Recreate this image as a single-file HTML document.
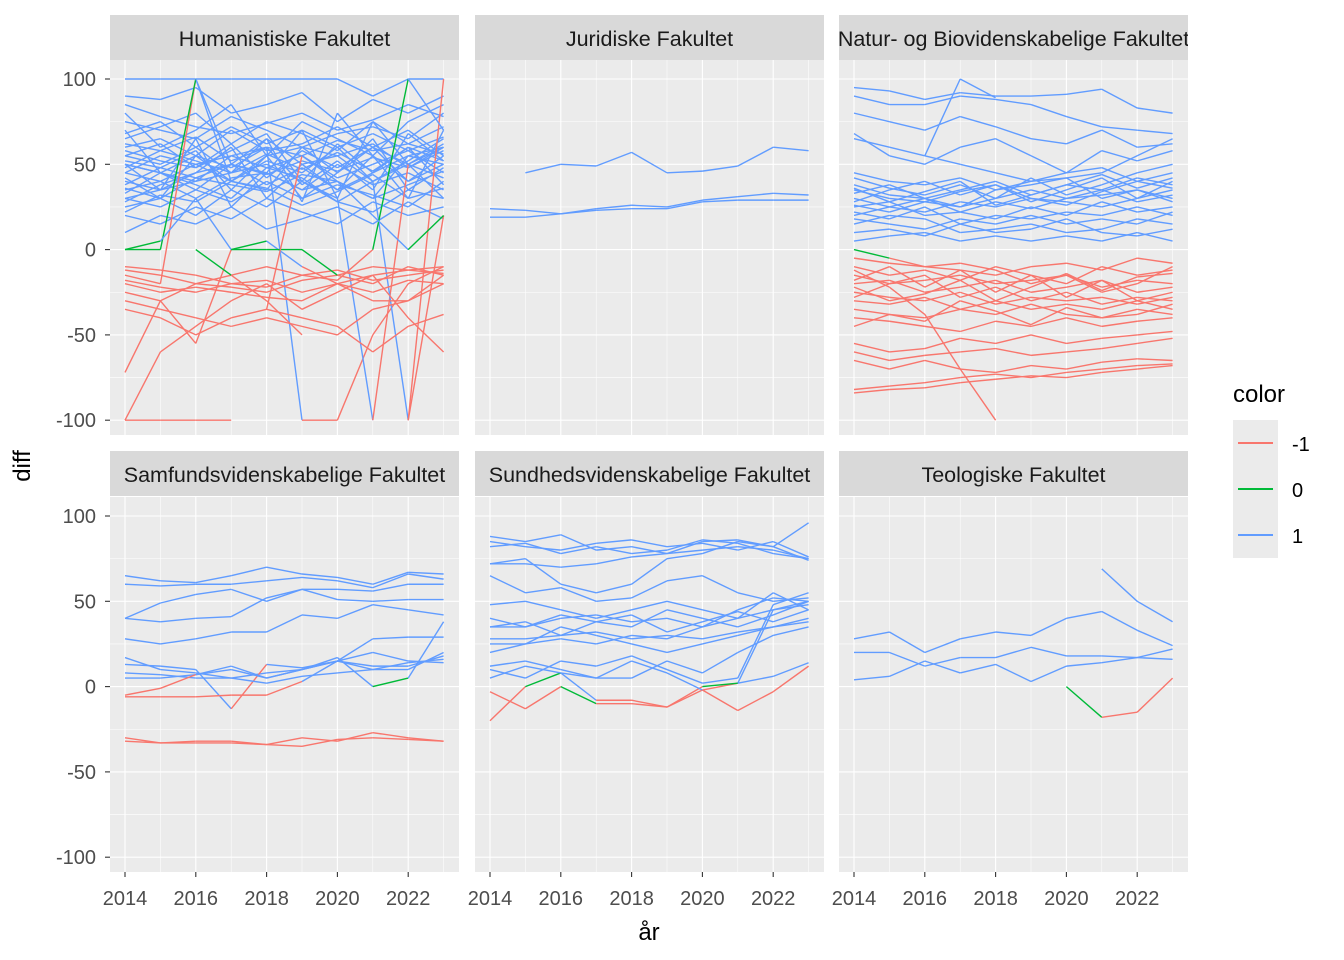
<!DOCTYPE html>
<html><head><meta charset="utf-8"><style>
html,body{margin:0;padding:0;background:#fff;}
svg{display:block;font-family:"Liberation Sans",Arial,sans-serif;}
</style></head><body>
<svg id="chart" width="1344" height="960" viewBox="0 0 1344 960" xmlns="http://www.w3.org/2000/svg">
<defs></defs>
<g id="panels"></g>
<text x="30" y="466" transform="rotate(-90 30 466)" text-anchor="middle" font-size="24" fill="#000">diff</text>
<text x="649" y="940" text-anchor="middle" font-size="24" fill="#000">år</text>
<g>
<text x="1233" y="402" font-size="24" fill="#000">color</text>
<g><rect x="1233" y="420" width="45" height="46" fill="#EBEBEB"/><line x1="1238" y1="443" x2="1273" y2="443" stroke="#F8766D" stroke-width="2"/><text x="1292" y="451" font-size="20" fill="#000">-1</text></g>
<g><rect x="1233" y="466" width="45" height="46" fill="#EBEBEB"/><line x1="1238" y1="489" x2="1273" y2="489" stroke="#00BA38" stroke-width="2"/><text x="1292" y="497" font-size="20" fill="#000">0</text></g>
<g><rect x="1233" y="512" width="45" height="46" fill="#EBEBEB"/><line x1="1238" y1="535" x2="1273" y2="535" stroke="#619CFF" stroke-width="2"/><text x="1292" y="543" font-size="20" fill="#000">1</text></g>
</g>
</svg>
<script>
const years = [2014,2015,2016,2017,2018,2019,2020,2021,2022,2023];
const yTicks = [-100,-50,0,50,100];
const xTicks = [2014,2016,2018,2020,2022];
const facetNames = ["Humanistiske Fakultet","Juridiske Fakultet","Natur- og Biovidenskabelige Fakultet","Samfundsvidenskabelige Fakultet","Sundhedsvidenskabelige Fakultet","Teologiske Fakultet"];
const N = null;
const humSeries = [
[100,100,100,100,100,100,100,90,100,100],
[90,88,95,80,85,92,75,88,80,90],
[75,70,65,78,70,60,68,72,65,80],
[60,65,55,70,58,62,72,60,70,55],
[55,50,60,45,65,50,55,62,48,60],
[50,45,40,55,48,55,42,50,58,45],
[45,55,50,40,52,45,60,40,52,65],
[40,35,45,50,38,48,35,55,40,50],
[35,40,30,42,45,35,50,38,45,35],
[30,25,35,28,40,30,38,32,25,40],
[25,30,20,35,25,40,28,22,35,30],
[20,15,25,18,30,22,15,28,20,25],
[10,20,15,25,12,18,25,15,28,18],
[65,72,80,62,75,68,58,75,62,72],
[80,60,70,85,55,75,65,55,75,85],
[55,62,48,58,68,40,62,45,55,60],
[38,48,58,35,55,60,45,65,35,48],
[28,38,45,60,30,50,35,45,60,38],
[70,45,35,50,65,28,80,55,30,70],
[50,35,65,25,45,70,30,75,50,30],
[58,52,48,62,42,58,48,60,50,62],
[42,30,55,48,60,38,52,35,68,52],
[62,58,66,52,60,55,64,58,62,56],
[52,48,42,50,44,52,46,54,48,58],
[33,45,38,30,48,42,28,40,50,42],
[68,75,60,72,62,70,60,68,58,66],
[48,58,52,45,56,47,57,46,60,52],
[36,30,42,38,34,44,40,30,38,46],
[85,78,72,68,74,80,70,76,85,78],
[22,32,28,40,36,26,34,44,30,36],
[45,40,50,55,60,-100,-100,-50,-20,-10],
[30,35,40,45,50,40,30,-100,50,60],
[50,45,55,40,35,60,55,40,-100,100],
[-100,-100,-100,-100,N,N,N,N,N,N],
[-72,-30,-20,-22,-25,-18,-15,-20,-10,-15],
[-10,-12,-15,-20,-18,-25,-20,-15,-12,-10],
[-30,-35,-40,-45,-40,-45,-50,-35,-30,-20],
[-35,-40,-50,-40,-35,-40,-45,-60,-45,-38],
[-20,-25,-22,-25,-28,-30,-20,-25,-18,-20],
[-12,-15,-20,-15,-10,-15,-12,-18,-15,-12],
[-100,-60,-45,-30,-20,-35,-25,-15,-40,-60],
[-25,-30,-55,0,5,-10,-20,-30,-30,-15],
[-15,-20,100,40,55,30,45,60,40,55],
[0,0,100,50,45,35,40,30,55,50],
[0,5,30,0,0,0,-15,-10,-12,-14],
[-18,-22,-25,-20,-22,-15,-18,0,100,70],
[N,N,0,-15,-30,-50,N,N,-100,20],
[N,N,N,N,-35,55,40,20,0,20]
];
const jurSeries = [
[N,45,50,49,57,45,46,49,60,58],
[24,23,21,24,26,25,29,31,33,32],
[19,19,21,23,24,24,28,29,29,29]
];
const natSeries = [
[95,93,88,92,90,90,91,94,83,80],
[90,85,85,90,88,85,78,72,70,68],
[80,75,70,78,72,65,62,70,60,62],
[68,55,50,60,65,55,45,58,52,58],
[N,N,55,100,89,N,N,N,N,N],
[45,40,38,42,35,40,45,48,40,45],
[38,32,30,35,40,32,38,35,42,38],
[35,30,28,25,30,35,30,32,35,30],
[30,25,22,28,25,30,28,25,30,35],
[25,28,20,22,18,25,20,28,22,25],
[22,18,25,15,20,18,22,20,25,20],
[18,15,12,18,15,20,15,18,15,22],
[15,20,18,10,12,15,10,12,18,15],
[10,12,8,15,10,12,18,10,8,12],
[5,8,10,5,8,5,8,5,10,5],
[28,35,40,32,38,28,35,42,30,40],
[65,60,55,50,45,40,42,45,55,65],
[42,36,32,38,30,42,32,38,45,50],
[33,38,30,25,35,38,42,30,35,28],
[20,25,30,22,28,24,30,35,28,32],
[36,28,34,40,26,32,38,44,36,42],
[26,22,28,34,38,30,26,34,40,36],
[-5,-8,-10,-12,-15,-10,-8,-12,-5,-8],
[-10,-15,-12,-18,-10,-15,-20,-10,-15,-12],
[-15,-20,-18,-15,-20,-18,-15,-22,-18,-20],
[-20,-18,-25,-22,-18,-25,-22,-18,-25,-22],
[-25,-28,-30,-25,-32,-28,-30,-28,-32,-28],
[-30,-32,-28,-35,-30,-35,-32,-35,-30,-35],
[-35,-38,-40,-35,-38,-32,-38,-40,-35,-38],
[-40,-42,-45,-48,-42,-45,-40,-45,-42,-40],
[-55,-60,-58,-52,-55,-50,-55,-52,-50,-48],
[-60,-65,-62,-60,-58,-62,-60,-58,-55,-52],
[-65,-70,-65,-70,-72,-68,-70,-66,-64,-65],
[-84,-82,-81,-78,-76,-74,-75,-72,-70,-68],
[-82,-80,-78,-75,-73,-75,-72,-70,-68,-67],
[-12,-22,-38,-70,-100,N,N,N,N,N],
[0,-5,-10,-8,-12,-20,-15,-25,-20,-10],
[-18,-10,-22,-12,-25,-15,-28,-18,-30,-25],
[-28,-20,-15,-28,-22,-30,-25,-32,-28,-30],
[-45,-38,-42,-30,-36,-44,-34,-40,-38,-32],
[-22,-30,-26,-18,-30,-22,-14,-24,-16,-14]
];
const samSeries = [
[65,62,61,65,70,66,64,60,67,66],
[60,59,60,60,62,64,62,58,66,63],
[40,49,54,57,50,57,57,56,60,60],
[40,38,40,41,52,57,51,50,51,51],
[28,25,28,32,32,42,40,48,45,42],
[17,10,8,5,8,10,15,28,29,29],
[13,12,10,-13,13,11,15,10,10,20],
[5,5,7,10,5,10,17,0,5,38],
[8,7,5,5,2,6,8,10,14,16],
[-6,-6,-6,-5,-5,3,15,12,12,18],
[-5,-1,7,12,5,10,15,20,15,14],
[-30,-33,-32,-32,-34,-30,-32,-27,-30,-32],
[-32,-33,-33,-33,-34,-35,-31,-30,-31,-32]
];
const sunSeries = [
[88,85,89,80,82,78,85,86,82,96],
[85,82,80,84,86,82,84,80,85,76],
[82,84,78,82,78,80,86,84,78,75],
[72,72,70,72,76,78,80,82,80,75],
[72,75,60,55,60,75,78,85,82,74],
[65,55,58,50,52,62,65,55,50,52],
[48,50,45,40,45,50,45,40,55,45],
[40,35,42,38,35,45,40,35,42,50],
[35,38,30,38,42,32,38,44,38,45],
[28,28,30,32,28,30,28,32,35,40],
[25,25,28,25,30,28,35,40,45,48],
[12,15,10,5,5,15,8,20,30,35],
[10,5,15,12,18,10,2,5,48,55],
[35,35,40,42,38,40,35,45,52,50],
[20,25,35,30,25,20,25,30,35,38],
[-20,0,8,-8,-8,-12,-2,2,45,50],
[-3,-13,0,-10,-10,-12,0,2,6,14],
[5,12,8,5,15,8,-2,-14,-3,12]
];
const teoSeries = [
[28,32,20,28,32,30,40,44,33,24],
[20,20,12,17,17,23,18,18,17,22],
[4,6,15,8,13,3,12,14,17,16],
[N,N,N,N,N,N,N,69,50,38],
[N,N,N,N,N,N,0,-18,-15,5]
];
const allSeries = [humSeries,jurSeries,natSeries,samSeries,sunSeries,teoSeries];

const NS="http://www.w3.org/2000/svg";
const svg=document.getElementById('chart');
const root=document.getElementById('panels');
const defs=svg.querySelector('defs');
function mk(tag,attrs,parent){const e=document.createElementNS(NS,tag);for(const k in attrs)e.setAttribute(k,attrs[k]);parent.appendChild(e);return e;}
const colX=[110,475,839], pw=349;
const rowStrip=[15,451], rowTop=[60,497], ph=375;
function colorOf(v){return v>0?"#619CFF":(v<0?"#F8766D":"#00BA38");}
for(let p=0;p<6;p++){
  const col=p%3,row=Math.floor(p/3);
  const x0=colX[col], y0=rowTop[row];
  const xs=v=>x0+15+(v-2014)*35.4;
  const ys=v=>y0+19+(100-v)*1.706;
  const g=mk('g',{},root);
  
  
  mk('rect',{x:x0,y:y0,width:pw,height:ph,fill:'#EBEBEB'},g);
  for(let v=-75;v<=75;v+=50)mk('line',{x1:x0,x2:x0+pw,y1:ys(v),y2:ys(v),stroke:'#fff','stroke-width':0.55},g);
  for(let yy=2015;yy<=2023;yy+=2)mk('line',{x1:xs(yy),x2:xs(yy),y1:y0,y2:y0+ph,stroke:'#fff','stroke-width':0.55},g);
  yTicks.forEach(v=>mk('line',{x1:x0,x2:x0+pw,y1:ys(v),y2:ys(v),stroke:'#fff','stroke-width':1.1},g));
  xTicks.forEach(v=>mk('line',{x1:xs(v),x2:xs(v),y1:y0,y2:y0+ph,stroke:'#fff','stroke-width':1.1},g));
  const cid='clip'+p;
  const cp=mk('clipPath',{id:cid},defs);
  mk('rect',{x:x0,y:rowStrip[row],width:pw,height:45},cp);
  const sg=mk('g',{'clip-path':'url(#'+cid+')'},g);
  
  
  mk('rect',{x:x0,y:rowStrip[row],width:pw,height:45,fill:'#D9D9D9'},sg);
  const st=mk('text',{x:x0+pw/2,y:rowStrip[row]+31,'text-anchor':'middle','font-size':21.5,fill:'#1A1A1A'},sg);
  st.textContent=facetNames[p];
  const lg=mk('g',{},g);
  
  
  allSeries[p].forEach(s=>{
    for(let i=0;i<s.length-1;i++){
      if(s[i]===null||s[i+1]===null)continue;
      const seg=mk('line',{x1:xs(years[i]),y1:ys(s[i]),x2:xs(years[i+1]),y2:ys(s[i+1]),stroke:colorOf(s[i]),'stroke-width':1.4,'stroke-linecap':'butt'},lg);
      
      
    }
  });
  if(col===0){
    yTicks.forEach(v=>{
      mk('line',{x1:x0-5,x2:x0,y1:ys(v),y2:ys(v),stroke:'#333','stroke-width':1.1},root);
      const t=mk('text',{x:x0-14,y:ys(v)+7,'text-anchor':'end','font-size':20,fill:'#4D4D4D'},root);
      
      
      t.textContent=v;
    });
  }
  if(row===1){
    xTicks.forEach(v=>{
      mk('line',{x1:xs(v),x2:xs(v),y1:y0+ph,y2:y0+ph+5,stroke:'#333','stroke-width':1.1},root);
      const t=mk('text',{x:xs(v),y:y0+ph+33,'text-anchor':'middle','font-size':20,fill:'#4D4D4D'},root);
      
      
      t.textContent=v;
    });
  }
}
</script>
</body></html>
